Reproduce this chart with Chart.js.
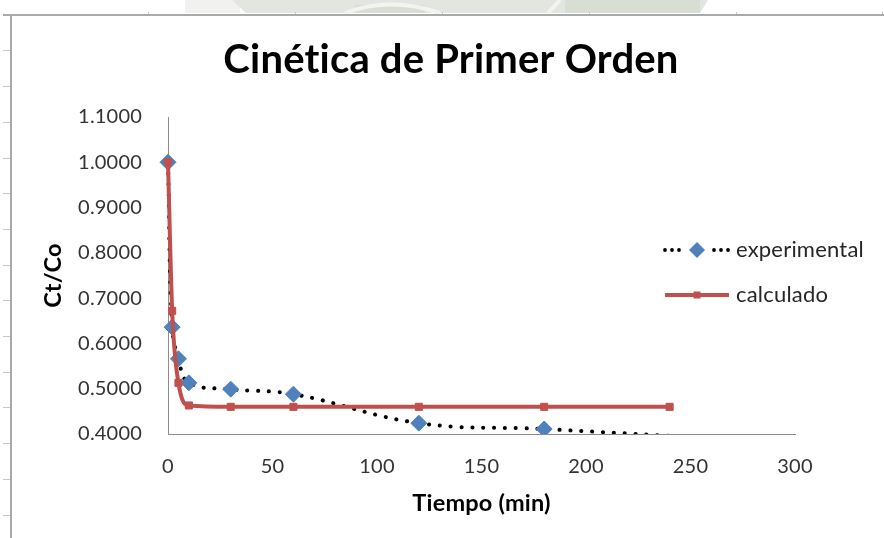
<!DOCTYPE html>
<html>
<head>
<meta charset="utf-8">
<script src="https://cdn.jsdelivr.net/npm/chart.js@4/dist/chart.umd.min.js"></script>
<style>
  html, body { margin: 0; padding: 0; background: #ffffff; }
  #wrap { position: relative; width: 884px; height: 538px; overflow: hidden; }
  #bg, #c { position: absolute; left: 0; top: 0; }
</style>
</head>
<body>
<div id="wrap">
  <canvas id="bg" width="884" height="538"></canvas>
  <canvas id="c" width="884" height="538"></canvas>
</div>
<script>
// Tiempo de muestreo (min) y concentración relativa Ct/Co
const tiempo = [0, 2, 5, 10, 30, 60, 120, 180, 240];
const experimental = [1.000, 0.636, 0.566, 0.513, 0.499, 0.488, 0.424, 0.411, 0.396];
const calculado = [1.000, 0.672, 0.513, 0.463, 0.460, 0.460, 0.460, 0.460, 0.460];

// Marcas de los ejes
const xTicks = [0, 50, 100, 150, 200, 250, 300];
const yTicks = [0.4, 0.5, 0.6, 0.7, 0.8, 0.9, 1.0, 1.1];

const FONT = 'Lato, "Open Sans", "Liberation Sans", sans-serif';
const AZUL = '#4F81BD';
const ROJO = '#C0504D';

// Fondo de la página: marca de agua y bordes de la hoja
function drawPage() {
  const g = document.getElementById('bg').getContext('2d');
  g.fillStyle = '#ffffff';
  g.fillRect(0, 0, 884, 538);
  // marca de agua tenue en la franja superior
  g.fillStyle = '#f1f2f0';
  g.fillRect(185, 0, 55, 13);
  g.fillStyle = '#e3e6e0';
  g.beginPath();
  g.moveTo(232, 0); g.lineTo(708, 0); g.lineTo(700, 13); g.lineTo(246, 13);
  g.closePath(); g.fill();
  g.fillStyle = '#d9ded4';
  g.fillRect(565, 0, 135, 13);
  g.fillRect(355, 5, 70, 8);
  g.strokeStyle = '#f3f4f1';
  g.lineWidth = 4;
  g.beginPath(); g.moveTo(560, 0); g.lineTo(548, 13); g.stroke();
  g.beginPath(); g.moveTo(345, 13); g.quadraticCurveTo(390, -4, 440, 13); g.stroke();
  g.fillStyle = '#ffffff';
  g.beginPath(); g.moveTo(712, 0); g.lineTo(884, 0); g.lineTo(884, 13); g.lineTo(700, 13); g.closePath(); g.fill();

  // bordes
  g.fillStyle = '#a9a9a9';
  g.fillRect(3, 14, 881, 2);
  g.fillRect(10, 14, 2, 524);
  g.fillStyle = '#c9c9c9';
  [50, 86, 122, 158, 193, 229, 265, 300, 336, 372, 407, 443, 479, 515].forEach(y => g.fillRect(3, y, 7, 1));
  [148, 295, 442, 589, 736, 882].forEach(x => g.fillRect(x, 12, 1, 2));
}
drawPage();

const pts = (vals) => tiempo.map((t, i) => ({ x: t, y: vals[i] }));

// Texto sin ligaduras (p. ej. "ti")
const sinLigaduras = {
  id: 'sinLigaduras',
  beforeDraw(chart) { chart.ctx.letterSpacing = '0.2px'; }
};

// Leyenda al estilo de la hoja de cálculo
const leyenda = {
  id: 'leyenda',
  afterDraw(chart) {
    const ctx = chart.ctx;
    const ds = chart.data.datasets;
    const x0 = 665, x1 = 729, xm = 697, xt = 736;
    const y1 = 250, y2 = 295;
    ctx.save();
    // experimental: puntos + rombo
    ctx.fillStyle = '#000';
    [665, 672, 679, 714, 721, 728].forEach(x => {
      ctx.beginPath(); ctx.arc(x, y1, 1.9, 0, Math.PI * 2); ctx.fill();
    });
    ctx.fillStyle = AZUL;
    ctx.beginPath();
    ctx.moveTo(xm - 8, y1); ctx.lineTo(xm, y1 - 8); ctx.lineTo(xm + 8, y1); ctx.lineTo(xm, y1 + 8);
    ctx.closePath(); ctx.fill();
    // calculado: línea + cuadro
    ctx.strokeStyle = ROJO; ctx.lineWidth = 4;
    ctx.beginPath(); ctx.moveTo(x0, y2); ctx.lineTo(x1, y2); ctx.stroke();
    ctx.fillStyle = ROJO;
    ctx.fillRect(xm - 3.5, y2 - 3.5, 7, 7);
    // textos
    ctx.fillStyle = '#262626';
    ctx.font = '22px ' + FONT;
    ctx.textBaseline = 'middle';
    ctx.textAlign = 'left';
    ctx.fillText(ds[0].label, xt, y1);
    ctx.fillText(ds[1].label, xt, y2);
    ctx.restore();
  }
};

function build() {
  new Chart(document.getElementById('c'), {
    type: 'line',
    data: {
      datasets: [
        {
          label: 'experimental',
          data: pts(experimental),
          borderColor: '#000000',
          borderWidth: 4,
          borderDash: [0.1, 10.8],
          borderCapStyle: 'round',
          tension: 0.4,
          pointStyle: 'rectRot',
          pointRadius: c => (c.raw && c.raw.y < yTicks[0]) ? 0 : 8,
          pointBackgroundColor: AZUL,
          pointBorderColor: AZUL,
          pointBorderWidth: 1,
          order: 2,
          clip: { left: 12, top: 12, right: 12, bottom: 0 }
        },
        {
          label: 'calculado',
          data: pts(calculado),
          borderColor: ROJO,
          borderWidth: 4,
          cubicInterpolationMode: 'monotone',
          pointStyle: 'rect',
          pointRadius: 5,
          pointBackgroundColor: ROJO,
          pointBorderColor: ROJO,
          pointBorderWidth: 1,
          order: 1,
          clip: { left: 12, top: 12, right: 12, bottom: 0 }
        }
      ]
    },
    options: {
      responsive: false,
      animation: false,
      devicePixelRatio: 1,
      events: [],
      layout: { padding: { top: 14, left: 20, right: 2, bottom: 0 } },
      plugins: {
        legend: { display: false },
        tooltip: { enabled: false },
        title: {
          display: true,
          text: 'Cinética de Primer Orden',
          color: '#000000',
          font: { family: FONT, size: 40, weight: 'bold', lineHeight: 1.2 },
          padding: { top: 21.6, bottom: 33.4 }
        }
      },
      scales: {
        x: {
          type: 'linear',
          min: xTicks[0],
          max: xTicks[xTicks.length - 1],
          afterBuildTicks: s => { s.ticks = xTicks.map(v => ({ value: v })); },
          ticks: { color: '#333333', font: { family: FONT, size: 20 }, padding: 20.5, maxRotation: 0 },
          grid: { display: false, drawTicks: false },
          border: { display: true, color: '#8c8c8c', width: 1 },
          title: {
            display: true, text: 'Tiempo (min)', color: '#000000',
            font: { family: FONT, size: 23.5, weight: 'bold', lineHeight: 1.2 },
            padding: { top: 0, bottom: 20.8 }
          },
          afterFit: s => { s.height = 104; }
        },
        y: {
          type: 'linear',
          min: yTicks[0],
          max: yTicks[yTicks.length - 1],
          afterBuildTicks: s => { s.ticks = yTicks.map(v => ({ value: v })); },
          ticks: { color: '#333333', font: { family: FONT, size: 20 }, padding: 26, callback: v => Number(v).toFixed(4) },
          grid: { display: false, drawTicks: false },
          border: { display: true, color: '#8c8c8c', width: 1 },
          title: {
            display: true, text: 'Ct/Co', color: '#000000',
            font: { family: FONT, size: 23.5, weight: 'bold', lineHeight: 1.2 },
            padding: { top: 19.8, bottom: 0 }
          },
          afterFit: s => { s.width = 148; }
        },
        margen: {
          type: 'linear',
          axis: 'y',
          position: 'right',
          display: true,
          ticks: { display: false },
          grid: { display: false, drawTicks: false },
          border: { display: false },
          afterFit: s => { s.width = 87; }
        }
      }
    },
    plugins: [sinLigaduras, leyenda]
  });
}

if (document.fonts && document.fonts.load) {
  Promise.all([
    document.fonts.load('bold 40px Lato'),
    document.fonts.load('20px Lato')
  ]).then(build, build);
} else {
  build();
}
</script>
</body>
</html>
